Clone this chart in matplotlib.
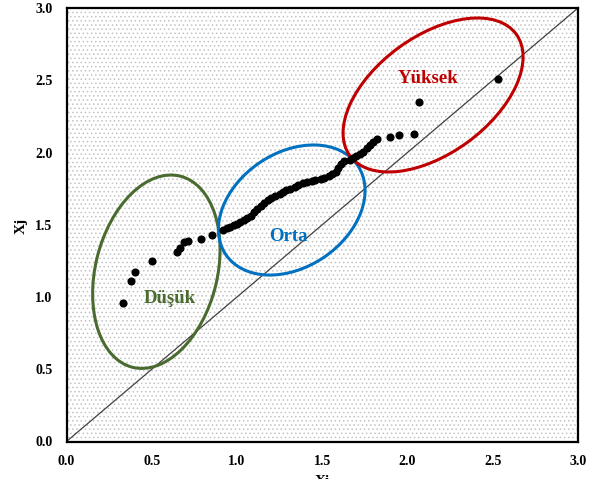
import matplotlib
matplotlib.use("Agg")
import matplotlib.pyplot as plt
from matplotlib.patches import Ellipse, Rectangle
from matplotlib.transforms import ScaledTranslation

# ---- data ----
xi = [0.33, 0.377, 0.40, 0.50, 0.65, 0.666, 0.69, 0.71, 0.79, 0.855,
      0.92, 0.94, 0.96, 0.98, 1.00, 1.02, 1.04, 1.06, 1.08, 1.10, 1.12, 1.14,
      1.16, 1.18, 1.20, 1.22, 1.25, 1.27, 1.29, 1.31, 1.34, 1.36, 1.39, 1.41,
      1.44, 1.46, 1.49, 1.51, 1.54, 1.56, 1.58, 1.59, 1.61, 1.63, 1.66, 1.68,
      1.70, 1.72, 1.74, 1.76, 1.78, 1.80, 1.82,
      1.90, 1.95, 2.04, 2.07, 2.53]
xj = [0.96, 1.11, 1.17, 1.25, 1.31, 1.34, 1.38, 1.39, 1.40, 1.43,
      1.465, 1.475, 1.487, 1.495, 1.504, 1.516, 1.53, 1.545, 1.563, 1.585, 1.607, 1.628,
      1.649, 1.67, 1.687, 1.698, 1.715, 1.727, 1.74, 1.75, 1.763, 1.772, 1.787, 1.795,
      1.805, 1.809, 1.816, 1.822, 1.835, 1.848, 1.868, 1.895, 1.92, 1.939, 1.948, 1.962,
      1.975, 1.99, 2.005, 2.028, 2.052, 2.072, 2.09,
      2.105, 2.12, 2.13, 2.35, 2.51]

group_names = ["Düşük", "Orta", "Yüksek"]
group_colors = ["#4A6B2F", "#0070C0", "#C00000"]
ellipse_centers = [(0.527, 1.175), (1.321, 1.602), (2.150, 2.398)]
label_pos = [(0.607, 0.991), (1.301, 1.422), (2.122, 2.513)]

x_ticks = [0.0, 0.5, 1.0, 1.5, 2.0, 2.5, 3.0]
y_ticks = [0.0, 0.5, 1.0, 1.5, 2.0, 2.5, 3.0]

# ---- figure ----
plt.rcParams['font.family'] = ['Liberation Serif', 'DejaVu Serif']
plt.rcParams['hatch.linewidth'] = 0.6
fig = plt.figure(figsize=(6.05, 4.79), dpi=100)
ax = fig.add_axes([66.5 / 605, 1 - 441.5 / 479, 511.5 / 605, 433.5 / 479])
ax.set_xlim(0, 3)
ax.set_ylim(0, 3)

# dotted background
bg = Rectangle((0, 0), 1, 1, transform=ax.transAxes, facecolor='white',
               edgecolor='#c4c4c4', hatch='....', linewidth=0, zorder=0)
ax.add_patch(bg)

# 1:1 line
ax.plot([0, 3], [0, 3], color='#404040', linewidth=0.9, zorder=2)

# points
ax.scatter(xi, xj, s=34, color='black', zorder=4, linewidths=0)

# ellipses (semi-axes in pixels, angle in degrees)
ell_shapes = [(98.5, 60.9, 76.0), (79.6, 57.2, 34.0), (103.0, 58.5, 36.2)]
for (cx, cy), (a, b, ang), col in zip(ellipse_centers, ell_shapes, group_colors):
    tr = fig.dpi_scale_trans + ScaledTranslation(cx, cy, ax.transData)
    e = Ellipse((0, 0), 2 * a / 100, 2 * b / 100, angle=ang, transform=tr,
                fill=False, edgecolor=col, linewidth=2.2, zorder=3)
    ax.add_patch(e)

for name, (tx, ty), col in zip(group_names, label_pos, group_colors):
    ax.text(tx, ty, name, color=col, fontsize=13.5, fontweight='bold',
            ha='center', va='center', zorder=5)

ax.set_xticks(x_ticks)
ax.set_yticks(y_ticks)
ax.set_xticklabels([f"{v:.1f}" for v in x_ticks])
ax.set_yticklabels([f"{v:.1f}" for v in y_ticks])
ax.tick_params(length=0, labelsize=10, pad=10)
for lab in ax.get_xticklabels() + ax.get_yticklabels():
    lab.set_fontweight('bold')

for s in ax.spines.values():
    s.set_linewidth(1.6)
    s.set_color('black')

ax.set_xlabel('Xi', fontsize=11, fontweight='bold', va='top')
ax.xaxis.set_label_coords(0.5, -0.077)
ax.set_ylabel('Xj', fontsize=11, fontweight='bold', va='center')
ax.yaxis.set_label_coords(-0.089, 0.497)

fig.savefig('out.png', dpi=100)
